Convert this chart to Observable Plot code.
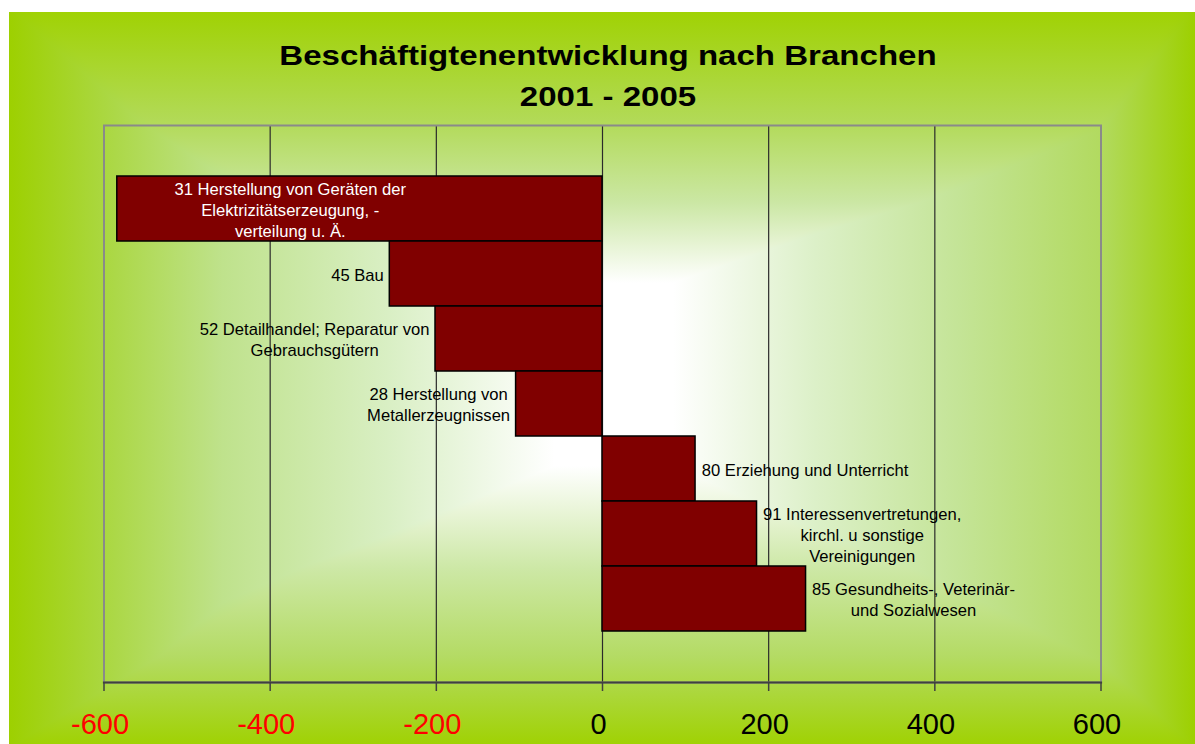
<!DOCTYPE html>
<html>
<head>
<meta charset="utf-8">
<script src="https://cdn.jsdelivr.net/npm/d3@7"></script>
<script src="https://cdn.jsdelivr.net/npm/@observablehq/plot@0.6"></script>
<style>
  body { margin: 0; background: #ffffff; }
  #chart {
    position: absolute; left: 9px; top: 12px; width: 1186px; height: 732px; overflow: hidden;
    background-image:
      linear-gradient(to right, #9dd000 0%, #acd848 9%, #bfe28c 18%, #d9efc4 32%, #ffffff 46%, #ffffff 56%, #dcf0c8 68%, #c4e497 80%, #b2da60 92%, #9dd000 100%),
      linear-gradient(to bottom, #a0d204 0%, #b2da58 15%, #cbe7a4 26%, #ffffff 37%, #ffffff 62%, #cde8a6 76%, #b4db64 88%, #a0d204 100%);
    background-blend-mode: darken;
    font-family: "Liberation Sans", Arial, sans-serif;
  }
  .tl {
    position: absolute; left: 599px; white-space: nowrap;
    font-weight: bold; font-size: 28px; line-height: 1; color: #000;
    transform: translateX(-50%) scaleX(1.18);
  }
  #plot { position: absolute; left: 0; top: 103px; }
</style>
</head>
<body>
<div id="chart">
  <div class="tl" style="top:30px">Beschäftigtenentwicklung nach Branchen</div>
  <div class="tl" style="top:71px">2001 - 2005</div>
  <div id="plot"></div>
</div>
<script>
const categories = [
  "31 Herstellung von Geräten der\nElektrizitätserzeugung, -\nverteilung u. Ä.",
  "45 Bau",
  "52 Detailhandel; Reparatur von\nGebrauchsgütern",
  "28 Herstellung von\nMetallerzeugnissen",
  "80 Erziehung und Unterricht",
  "91 Interessenvertretungen,\nkirchl. u sonstige\nVereinigungen",
  "85 Gesundheits-, Veterinär-\nund Sozialwesen"
];
const values = [-584, -256, -201, -104, 112, 186, 245];
const xTicks = [-600, -400, -200, 0, 200, 400, 600];

const data = categories.map((c, i) => ({name: c, value: values[i]}));

const marginLeft = 94.5, marginRight = 94.5;

const chart = Plot.plot({
  width: 1186,
  height: 629,
  marginTop: 10,
  marginBottom: 62,
  marginLeft,
  marginRight,
  style: {background: "transparent", fontFamily: "'Liberation Sans', Arial, sans-serif", overflow: "visible"},
  x: {domain: [-600, 600], axis: null, label: null},
  y: {domain: categories, paddingInner: 0, paddingOuter: 0.752, axis: null},
  marks: [
    Plot.gridX(xTicks.slice(1, -1), {stroke: "#2a2a2a", strokeOpacity: 1, strokeWidth: 1.2}),
    Plot.frame({stroke: "#8a8a8a", strokeWidth: 2}),
    Plot.barX(data, {x: "value", y: "name", fill: "#800000", stroke: "#000", strokeWidth: 1.5}),
    Plot.frame({anchor: "bottom", stroke: "#404040", strokeWidth: 2.2}),
    Plot.axisX({ticks: xTicks, tickSize: 9, stroke: "#404040", strokeWidth: 1.5, tickFormat: () => "", label: null}),
    Plot.text(xTicks, {
      x: d => d, frameAnchor: "bottom", dy: 42.5, dx: -4,
      text: d => String(d), fill: d => d < 0 ? "#ff0000" : "#000000",
      fontSize: 29, lineAnchor: "middle", textAnchor: "middle"
    }),
    Plot.text(data, {
      x: "value", y: "name", text: "name",
      fontSize: 16.6, lineHeight: 1.28, textAnchor: "middle", lineAnchor: "middle", fill: "#000"
    })
  ]
});

document.getElementById("plot").appendChild(chart);

// Position data labels like Excel "outside end" labels (block centred, 6px from bar end);
// a label that would not fit outside is put inside the bar in white.
const xs = chart.scale("x");
const textGroups = chart.querySelectorAll('g[aria-label="text"]');
const labelGroup = textGroups[textGroups.length - 1];
const labelNodes = labelGroup.querySelectorAll(":scope > text");
labelNodes.forEach((t, i) => {
  const v = values[i];
  const px = xs.apply(v);
  const w = t.getBBox().width;
  let dx;
  if (v < 0) {
    if (px - 6 - w < marginLeft) {
      dx = 57 + w / 2;
      t.setAttribute("fill", "#ffffff");
    } else {
      dx = -6 - w / 2;
    }
  } else {
    dx = 6 + w / 2;
  }
  const tr = t.getAttribute("transform") || "";
  t.setAttribute("transform", `translate(${dx},0) ` + tr);
});
</script>
</body>
</html>
